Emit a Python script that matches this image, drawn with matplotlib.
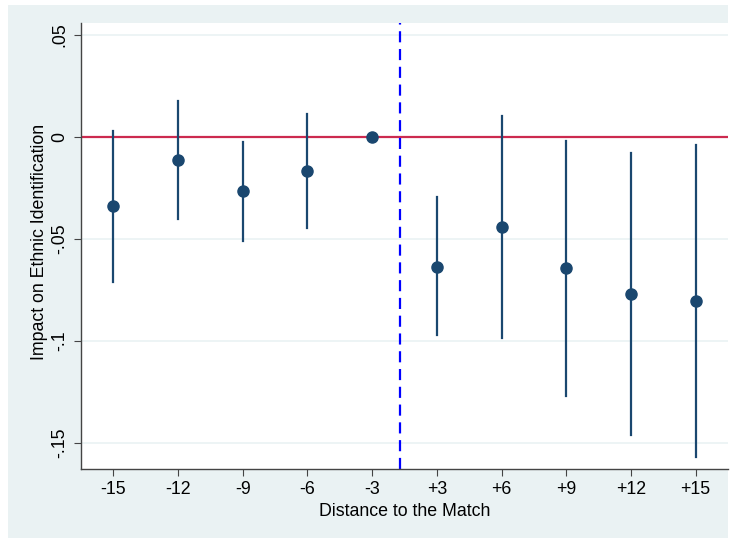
import matplotlib.pyplot as plt
from matplotlib.patches import Rectangle

plt.rcParams['font.family'] = ['Liberation Sans', 'DejaVu Sans']

# Event-study estimates and 95% CI bounds
labels = ['-15', '-12', '-9', '-6', '-3', '+3', '+6', '+9', '+12', '+15']
coef = [-0.0338, -0.0111, -0.0266, -0.0167, 0.0, -0.0635, -0.0443, -0.0640, -0.0768, -0.0806]
ci_low = [-0.0711, -0.0400, -0.0510, -0.0444, 0.0, -0.0972, -0.0987, -0.1268, -0.1460, -0.1567]
ci_high = [0.0031, 0.0175, -0.0025, 0.0111, 0.0, -0.0294, 0.0101, -0.0018, -0.0077, -0.0039]
yticks = [0.05, 0, -0.05, -0.1, -0.15]
ytick_labels = ['.05', '0', '-.05', '-.1', '-.15']

bg = '#eaf2f3'
navy = '#1a476f'

fig = plt.figure(figsize=(7.35, 5.39), dpi=100)
fig.patch.set_facecolor('white')
fig.add_artist(Rectangle((8 / 735, 1 / 539), 720 / 735, 533 / 539,
                         transform=fig.transFigure, facecolor=bg,
                         edgecolor='none', zorder=-10))
ax = fig.add_axes([81 / 735, 70 / 539, 647 / 735, 446 / 539])
ax.set_facecolor('white')

pos = list(range(1, len(labels) + 1))
for p, lo, hi in zip(pos, ci_low, ci_high):
    if hi > lo:
        ax.plot([p, p], [lo, hi], color=navy, lw=1.6, zorder=3)
ax.plot(pos, coef, 'o', color=navy, ms=8, zorder=4)

ax.axhline(0, color='#cc2a4f', lw=1.6, zorder=2)
ax.axvline(5.43, color='#0000ff', lw=1.6, ls=(0, (5, 3)), zorder=2)

ax.set_xlim(0.5, 10.5)
ax.set_ylim(-0.1627, 0.0559)
ax.set_yticks(yticks)
ax.set_yticklabels(ytick_labels, rotation=90, va='center')
ax.set_xticks(pos)
ax.set_xticklabels(labels)
ax.grid(axis='y', color=bg, lw=1.2)
ax.set_axisbelow(True)

for s in ['top', 'right']:
    ax.spines[s].set_visible(False)
for s in ['left', 'bottom']:
    ax.spines[s].set_color('#444444')
    ax.spines[s].set_linewidth(1.0)
ax.tick_params(axis='both', direction='out', length=5, color='#444444',
               labelsize=12.8, pad=4)

ax.set_xlabel('Distance to the Match', fontsize=12.8, labelpad=3)
ax.set_ylabel('Impact on Ethnic Identification', fontsize=12.8)
ax.yaxis.set_label_coords(-33 / 647, 0.51)

fig.savefig('out.png', dpi=100)
